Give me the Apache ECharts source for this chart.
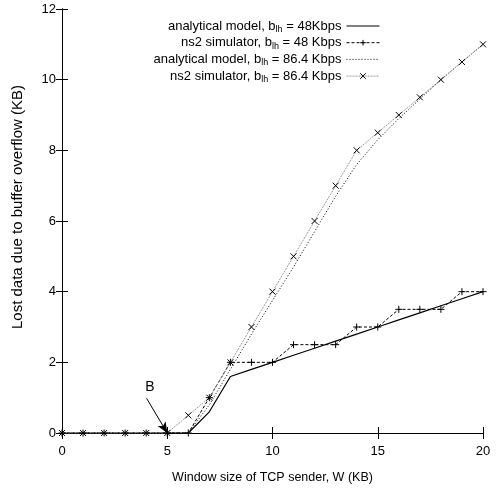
<!DOCTYPE html>
<html>
<head>
<meta charset="utf-8">
<script src="https://cdn.jsdelivr.net/npm/echarts@6/dist/echarts.min.js"></script>
<style>
  html, body { margin: 0; padding: 0; background: #fff; }
  #chart { width: 497px; height: 490px; }
</style>
</head>
<body>
<div id="chart"></div>
<script>
// Window size of the TCP sender (KB)
const windowKB = [0, 1, 2, 3, 4, 5, 6, 7, 8, 9, 10, 11, 12, 13, 14, 15, 16, 17, 18, 19, 20];

// Lost data due to buffer overflow (KB)
const model48 = [0, 0, 0, 0, 0, 0, 0, 0.6, 1.6, 1.8, 2.0, 2.2, 2.4, 2.6, 2.8, 3.0, 3.2, 3.4, 3.6, 3.8, 4.0];
const ns2_48  = [0, 0, 0, 0, 0, 0, 0, 1, 2, 2, 2, 2.5, 2.5, 2.5, 3, 3, 3.5, 3.5, 3.5, 4, 4];
const model86 = [0, 0, 0, 0, 0, 0, 0, 0.8, 1.8, 2.8, 3.75, 4.7, 5.7, 6.7, 7.6, 8.3, 8.9, 9.45, 10, 10.5, 11];
const ns2_86  = [0, 0, 0, 0, 0, 0, 0.5, 1, 2, 3, 4, 5, 6, 7, 8, 8.5, 9, 9.5, 10, 10.5, 11];

const seriesNames = [
  'analytical model, b_lh = 48Kbps',
  'ns2 simulator, b_lh = 48 Kbps',
  'analytical model, b_lh = 86.4 Kbps',
  'ns2 simulator, b_lh = 86.4 Kbps'
];
// analytical curves are plain lines, simulator runs carry point markers
const hasMarker = [false, true, false, true];

const xTicks = { min: 0, max: 20, interval: 5 };
const yTicks = { min: 0, max: 12, interval: 2 };

// Point "B" marked on the W axis
const pointB = [5, 0];
const pointBLabel = 'B';

const FONT = '"Liberation Sans", Arial, sans-serif';
const pair = (ys) => windowKB.map((x, i) => [x, ys[i]]);

const plusPath = 'path://M5,0L5,10M0,5L10,5';
const crossPath = 'path://M0,0L10,10M10,0L0,10';

const legendFormatter = (name) => {
  const parts = name.split('_lh');
  return '{t|' + parts[0] + '}{s|lh}{t|' + parts[1] + '}';
};
const legendRich = {
  t: { fontSize: 13, fontFamily: FONT, color: '#000', lineHeight: 16, verticalAlign: 'middle' },
  s: { fontSize: 9, fontFamily: FONT, color: '#000', lineHeight: 11, verticalAlign: 'bottom' }
};
const legendRowTop = [19.5, 36.2, 52.9, 69.6];
const legends = seriesNames.map((n, i) => ({
  data: [n],
  right: 117,
  top: legendRowTop[i],
  orient: 'vertical',
  align: 'right',
  itemWidth: 33,
  itemHeight: 7,
  itemGap: 0,
  padding: 0,
  selectedMode: false,
  formatter: legendFormatter,
  itemStyle: hasMarker[i] ? { borderWidth: 1 } : { opacity: 0 },
  lineStyle: { width: 1 },
  textStyle: { rich: legendRich }
}));

const tickStyle = { show: true, inside: true, length: 6, lineStyle: { color: '#000', width: 1 } };
const lineAxis = { show: true, lineStyle: { color: '#000', width: 1 } };

const option = {
  animation: false,
  backgroundColor: '#fff',
  grid: { left: 62, right: 14, top: 9, bottom: 57, containLabel: false },
  legend: legends,
  xAxis: [
    {
      type: 'value', min: xTicks.min, max: xTicks.max, interval: xTicks.interval,
      position: 'bottom',
      name: 'Window size of TCP sender, W (KB)',
      nameLocation: 'middle', nameGap: 38,
      nameTextStyle: { fontFamily: FONT, fontSize: 12.5, color: '#000' },
      axisLine: lineAxis, axisTick: tickStyle,
      axisLabel: { fontFamily: FONT, fontSize: 13, color: '#000', margin: 12 },
      splitLine: { show: false }
    },
    {
      type: 'value', min: xTicks.min, max: xTicks.max, interval: xTicks.interval,
      position: 'top',
      axisLine: lineAxis, axisTick: tickStyle,
      axisLabel: { show: false }, splitLine: { show: false }
    }
  ],
  yAxis: [
    {
      type: 'value', min: yTicks.min, max: yTicks.max, interval: yTicks.interval,
      position: 'left',
      name: 'Lost data due to buffer overflow (KB)',
      nameLocation: 'middle', nameGap: 37,
      nameTextStyle: { fontFamily: FONT, fontSize: 15, color: '#000', padding: [0, 0, 0, 28] },
      axisLine: lineAxis, axisTick: tickStyle,
      axisLabel: { fontFamily: FONT, fontSize: 13, color: '#000', margin: 6 },
      splitLine: { show: false }
    },
    {
      type: 'value', min: yTicks.min, max: yTicks.max, interval: yTicks.interval,
      position: 'right',
      axisLine: lineAxis, axisTick: tickStyle,
      axisLabel: { show: false }, splitLine: { show: false }
    }
  ],
  series: [
    {
      name: seriesNames[0], type: 'line', data: pair(model48),
      symbol: 'none', color: '#000',
      lineStyle: { color: '#000', width: 1.2, type: 'solid' },
      z: 3
    },
    {
      name: seriesNames[1], type: 'line', data: pair(ns2_48),
      symbol: plusPath, symbolSize: 7, showSymbol: true, color: '#000',
      itemStyle: { color: 'rgba(0,0,0,0)', borderColor: '#000', borderWidth: 1 },
      lineStyle: { color: '#000', width: 1, type: [3, 2] },
      z: 4
    },
    {
      name: seriesNames[2], type: 'line', data: pair(model86),
      symbol: 'none', color: '#000',
      lineStyle: { color: '#000', width: 1, type: [1, 2] },
      z: 3
    },
    {
      name: seriesNames[3], type: 'line', data: pair(ns2_86),
      symbol: crossPath, symbolSize: 6, showSymbol: true, color: '#000',
      itemStyle: { color: 'rgba(0,0,0,0)', borderColor: '#000', borderWidth: 1 },
      lineStyle: { color: '#999', width: 1, type: [2, 1] },
      z: 4,
      markLine: {
        silent: true,
        symbol: ['none', 'arrow'],
        symbolSize: [7, 11],
        label: { show: false },
        lineStyle: { color: '#000', width: 1, type: 'solid' },
        data: [[{ coord: [4.02, 0.98] }, { coord: pointB }]]
      },
      markPoint: {
        silent: true,
        symbol: 'circle', symbolSize: 1,
        itemStyle: { color: 'rgba(0,0,0,0)' },
        label: { show: true, position: 'inside', formatter: pointBLabel, fontFamily: FONT, fontSize: 14, color: '#000' },
        data: [{ coord: [4.18, 1.3] }]
      }
    }
  ]
};

const chart = echarts.init(document.getElementById('chart'), null, { renderer: 'canvas' });
chart.setOption(option);
</script>
</body>
</html>
